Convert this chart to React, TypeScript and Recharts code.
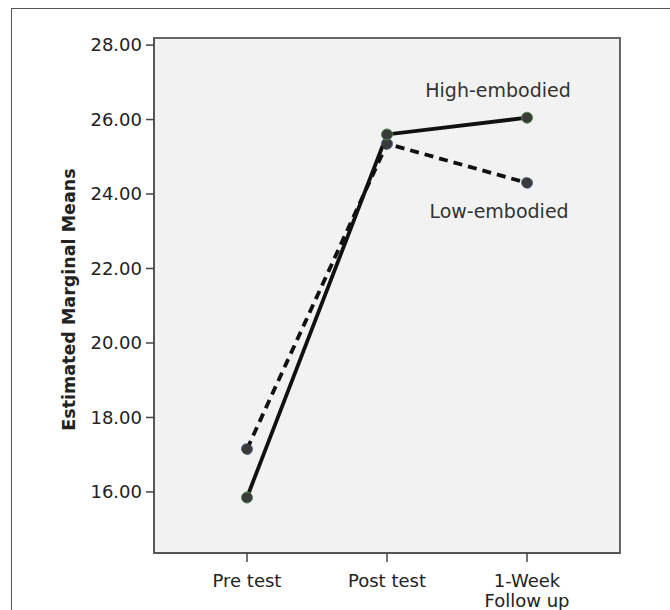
import React from "react";
import {
  LineChart,
  Line,
  XAxis,
  YAxis,
  ReferenceArea,
  Label,
} from "recharts";

// time points of the study
const testTimes = ["Pre test", "Post test", "1-Week\nFollow up"];
// estimated marginal means per group
const highEmbodied = [15.85, 25.6, 26.05];
const lowEmbodied = [17.15, 25.35, 24.3];
const yTicks = [16, 18, 20, 22, 24, 26, 28];
const yDomain = [14.36, 28.19];
const xDomain = [-0.664, 2.664];

const chartData = testTimes.map((t, i) => ({
  pos: i,
  high: highEmbodied[i],
  low: lowEmbodied[i],
}));

const FONT = "'DejaVu Sans', Verdana, sans-serif";

function XTick(props: any) {
  const { x, y, payload } = props;
  const lines = String(testTimes[payload.value] ?? "").split("\n");
  return (
    <text x={x} y={y} textAnchor="middle" fontFamily={FONT} fontSize={18} fill="#222">
      {lines.map((l, i) => (
        <tspan key={i} x={x} dy={i === 0 ? 23 : 20}>
          {l}
        </tspan>
      ))}
    </text>
  );
}

function endLabel(text: string, dx: number, dy: number) {
  return (props: any) => {
    if (props.index !== testTimes.length - 1) return null;
    return (
      <text
        x={props.x + dx}
        y={props.y + dy}
        textAnchor="middle"
        fontFamily={FONT}
        fontSize={19}
        fill="#333"
      >
        {text}
      </text>
    );
  };
}

export default function App() {
  return (
    <div
      style={{
        position: "absolute",
        left: 0,
        top: 0,
        width: 670,
        height: 610,
        overflow: "hidden",
        background: "#fff",
      }}
    >
      <div
        style={{
          position: "absolute",
          left: 11,
          top: 8,
          width: 700,
          height: 700,
          border: "1.5px solid #555",
          boxSizing: "border-box",
        }}
      />
      <div style={{ position: "absolute", left: 0, top: 0 }}>
        <LineChart
          width={670}
          height={610}
          data={chartData}
          margin={{ top: 38, right: 50, bottom: 0, left: 0 }}
        >
          <ReferenceArea
            x1={xDomain[0]}
            x2={xDomain[1]}
            y1={yDomain[0]}
            y2={yDomain[1]}
            fill="#f2f2f2"
            fillOpacity={1}
            stroke="#666"
            strokeWidth={2}
          />
          <XAxis
            dataKey="pos"
            type="number"
            domain={xDomain}
            ticks={[0, 1, 2]}
            allowDataOverflow
            height={57}
            tick={<XTick />}
            tickSize={9}
            tickLine={{ stroke: "#444", strokeWidth: 1.5 }}
            axisLine={{ stroke: "#555", strokeWidth: 2 }}
            interval={0}
          />
          <YAxis
            width={154}
            domain={yDomain}
            ticks={yTicks}
            tickFormatter={(v: number) => v.toFixed(2)}
            tick={{ fontFamily: FONT, fontSize: 18, fill: "#222" }}
            tickSize={8}
            tickMargin={4}
            tickLine={{ stroke: "#444", strokeWidth: 1.5 }}
            axisLine={{ stroke: "#555", strokeWidth: 2 }}
            allowDataOverflow
          >
            <Label
              content={(p: any) => {
                const vb = p.viewBox || {};
                const cy = (vb.y ?? 38) + (vb.height ?? 515) / 2 + 4;
                return (
                  <text
                    x={75}
                    y={cy}
                    transform={`rotate(-90, 75, ${cy})`}
                    textAnchor="middle"
                    fontFamily={FONT}
                    fontWeight="bold"
                    fontSize={17.5}
                    fill="#222"
                  >
                    Estimated Marginal Means
                  </text>
                );
              }}
            />
          </YAxis>
          <Line
            dataKey="low"
            stroke="#111"
            strokeWidth={3.8}
            strokeDasharray="9 6"
            dot={{ r: 5.5, fill: "#3b3b3b", stroke: "#5566a0", strokeWidth: 1 }}
            label={endLabel("Low-embodied", -28, 35)}
            isAnimationActive={false}
          />
          <Line
            dataKey="high"
            stroke="#111"
            strokeWidth={3.8}
            dot={{ r: 5.5, fill: "#3b3b3b", stroke: "#4f8a4f", strokeWidth: 1 }}
            label={endLabel("High-embodied", -29, -21)}
            isAnimationActive={false}
          />
        </LineChart>
      </div>
    </div>
  );
}
